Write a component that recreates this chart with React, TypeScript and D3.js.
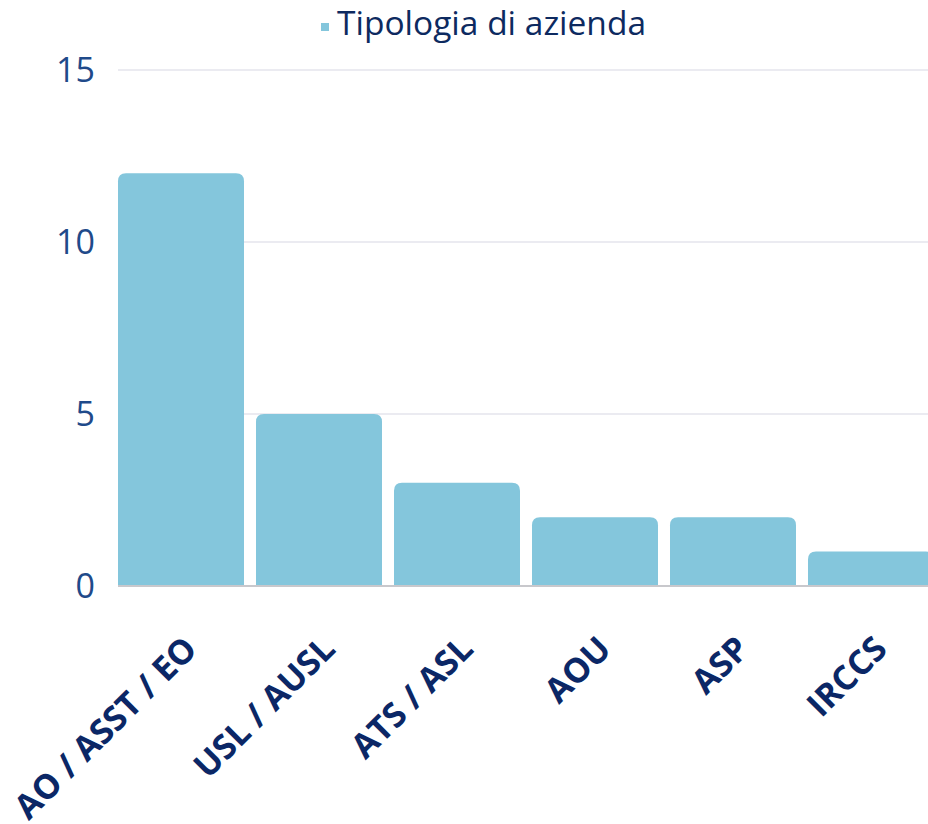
import React, { useEffect, useRef } from "react";
import * as d3 from "d3";

const categories = ["AO / ASST / EO", "USL / AUSL", "ATS / ASL", "AOU", "ASP", "IRCCS"];
const values = [12, 5, 3, 2, 2, 1];
const yTicks = [0, 5, 10, 15];
const seriesName = "Tipologia di azienda";

export default function App() {
  const ref = useRef<SVGSVGElement>(null);

  useEffect(() => {
    const width = 928,
      height = 824;
    const svg = d3.select(ref.current);
    svg.selectAll("*").remove();
    svg.attr("width", width).attr("height", height);

    const font = "'Open Sans', 'Noto Sans', sans-serif";
    const barColor = "#84c6dc";

    const x = d3
      .scaleBand<string>()
      .domain(categories)
      .range([112, 940])
      .paddingInner(0.087)
      .paddingOuter(0.0435);
    const y = d3.scaleLinear().domain([0, 15]).range([586, 70]);

    // gridlines
    svg
      .append("g")
      .selectAll("line")
      .data(yTicks.filter((t) => t > 0))
      .enter()
      .append("line")
      .attr("x1", 118)
      .attr("x2", width)
      .attr("y1", (d) => y(d))
      .attr("y2", (d) => y(d))
      .attr("stroke", "#e4e4ec")
      .attr("stroke-width", 1.5);

    // y tick labels
    svg
      .append("g")
      .selectAll("text")
      .data(yTicks)
      .enter()
      .append("text")
      .attr("x", 95)
      .attr("y", (d) => y(d) + 12)
      .attr("text-anchor", "end")
      .attr("font-family", font)
      .attr("font-size", 34)
      .attr("fill", "#1f4a8a")
      .text((d) => d);

    // bars with rounded top corners
    const r = 8;
    svg
      .append("g")
      .selectAll("path")
      .data(values)
      .enter()
      .append("path")
      .attr("fill", barColor)
      .attr("d", (d, i) => {
        const x0 = x(categories[i])!;
        const w = x.bandwidth();
        const top = y(d);
        const bottom = y(0);
        const p = d3.path();
        p.moveTo(x0, bottom);
        p.lineTo(x0, top + r);
        p.quadraticCurveTo(x0, top, x0 + r, top);
        p.lineTo(x0 + w - r, top);
        p.quadraticCurveTo(x0 + w, top, x0 + w, top + r);
        p.lineTo(x0 + w, bottom);
        p.closePath();
        return p.toString();
      });

    // baseline
    svg
      .append("line")
      .attr("x1", 118)
      .attr("x2", width)
      .attr("y1", y(0))
      .attr("y2", y(0))
      .attr("stroke", "#c8c8cc")
      .attr("stroke-width", 2);

    // x labels
    svg
      .append("g")
      .selectAll("text")
      .data(categories)
      .enter()
      .append("text")
      .attr("transform", (d) => `translate(${x(d)! + x.bandwidth() / 2 + 18},${651}) rotate(-45)`)
      .attr("text-anchor", "end")
      .attr("font-family", font)
      .attr("font-weight", "bold")
      .attr("font-size", 34)
      .attr("fill", "#0b2766")
      .text((d) => d);

    // legend
    const legend = svg.append("g");
    legend
      .append("rect")
      .attr("x", 321)
      .attr("y", 23)
      .attr("width", 8)
      .attr("height", 8)
      .attr("fill", barColor);
    legend
      .append("text")
      .attr("x", 337)
      .attr("y", 35)
      .attr("font-family", font)
      .attr("font-size", 33.5)
      .attr("fill", "#0d2a60")
      .text(seriesName);
  }, []);

  return <svg ref={ref} style={{ position: "absolute", left: 0, top: 0 }}></svg>;
}
